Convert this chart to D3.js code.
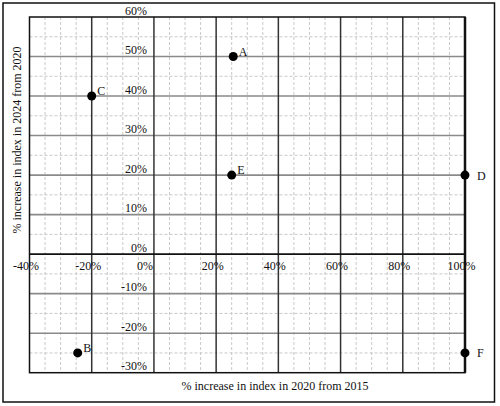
<!DOCTYPE html>
<html>
<head>
<meta charset="utf-8">
<script src="https://cdn.jsdelivr.net/npm/d3@7/dist/d3.min.js"></script>
<style>
  html, body { margin: 0; padding: 0; background: #fff; }
  svg { display: block; }
  text { font-family: "Liberation Serif", "Times New Roman", serif; fill: #111; }
</style>
</head>
<body>
<svg id="chart" width="500" height="406"></svg>
<script>
// ---- data ----
const labels  = ["A", "B", "C", "D", "E", "F"];
const xValues = [25.5, -24.5, -20, 100, 25, 100];   // % increase in index in 2020 from 2015
const yValues = [50, -25, 40, 20, 20, -25];         // % increase in index in 2024 from 2020
const labelSides = ["ne", "ne", "ne", "e", "ne", "e"];
const xTicks = [-40, -20, 0, 20, 40, 60, 80, 100];
const yTicks = [-30, -20, -10, 0, 10, 20, 30, 40, 50, 60];
const xTitle = "% increase in index in 2020 from 2015";
const yTitle = "% increase in index in 2024 from 2020";

// ---- layout ----
const svg = d3.select("#chart");
const plot = { left: 29.5, right: 465, top: 17, bottom: 372.7 };
const x = d3.scaleLinear().domain([-40, 100]).range([plot.left, plot.right]);
const y = d3.scaleLinear().domain([-30, 60]).range([plot.bottom, plot.top]);

// outer frame
svg.append("rect")
  .attr("x", 3).attr("y", 3).attr("width", 491.5).attr("height", 399)
  .attr("fill", "none").attr("stroke", "#111").attr("stroke-width", 1.5);

const grid = svg.append("g");
const xMinor = d3.range(-40, 100.1, 5).filter(v => v % 20 !== 0);
const yMinor = d3.range(-30, 60.1, 5).filter(v => v % 10 !== 0);

// minor dashed grid
grid.selectAll(".vminor").data(xMinor).join("line")
  .attr("x1", d => x(d)).attr("x2", d => x(d))
  .attr("y1", plot.top).attr("y2", plot.bottom)
  .attr("stroke", "#c8c8c8").attr("stroke-width", 1).attr("stroke-dasharray", "3,2");
grid.selectAll(".hminor").data(yMinor).join("line")
  .attr("y1", d => y(d)).attr("y2", d => y(d))
  .attr("x1", plot.left).attr("x2", plot.right)
  .attr("stroke", "#c8c8c8").attr("stroke-width", 1).attr("stroke-dasharray", "3,2");

// horizontal majors (gray)
grid.selectAll(".hmajor").data(yTicks.filter(v => v !== 0 && v !== 60 && v !== -30)).join("line")
  .attr("y1", d => y(d)).attr("y2", d => y(d))
  .attr("x1", plot.left).attr("x2", plot.right)
  .attr("stroke", "#8a8a8a").attr("stroke-width", 1.6);

// vertical majors (dark)
grid.selectAll(".vmajor").data(xTicks.filter(v => v !== -40 && v !== 100)).join("line")
  .attr("x1", d => x(d)).attr("x2", d => x(d))
  .attr("y1", plot.top).attr("y2", plot.bottom)
  .attr("stroke", "#333").attr("stroke-width", 1.5);

// zero horizontal line
grid.append("line")
  .attr("x1", plot.left).attr("x2", plot.right)
  .attr("y1", y(0)).attr("y2", y(0))
  .attr("stroke", "#111").attr("stroke-width", 1.6);

// plot border
svg.append("rect")
  .attr("x", plot.left).attr("y", plot.top)
  .attr("width", plot.right - plot.left).attr("height", plot.bottom - plot.top)
  .attr("fill", "none").attr("stroke", "#111").attr("stroke-width", 1.5);
svg.append("line")
  .attr("x1", plot.right).attr("x2", plot.right)
  .attr("y1", plot.top).attr("y2", plot.bottom)
  .attr("stroke", "#111").attr("stroke-width", 2.5);

// y axis labels along x = 0
const yAxis = svg.append("g")
  .attr("transform", `translate(${x(0)},0)`)
  .call(d3.axisLeft(y).tickValues(yTicks).tickSize(0).tickPadding(7).tickFormat(d => d + "%"));
yAxis.select(".domain").remove();
yAxis.selectAll("text")
  .attr("dy", -3)
  .style("font-family", '"Liberation Serif", serif').style("font-size", "12px").attr("fill", "#111");

// x axis labels along y = 0
const xAxis = svg.append("g")
  .attr("transform", `translate(0,${y(0)})`)
  .call(d3.axisBottom(x).tickValues(xTicks).tickSize(0).tickPadding(7).tickFormat(d => d + "%"));
xAxis.select(".domain").remove();
xAxis.selectAll("text")
  .attr("dx", d => d === 0 ? -9.5 : -4)
  .style("font-family", '"Liberation Serif", serif').style("font-size", "12px").attr("fill", "#111");

// axis titles
svg.append("text")
  .attr("x", 275).attr("y", 390)
  .attr("text-anchor", "middle").style("font-size", "12px")
  .text(xTitle);
svg.append("text")
  .attr("transform", "translate(16.5,140) rotate(-90)")
  .attr("text-anchor", "middle").attr("dominant-baseline", "central")
  .style("font-size", "12px")
  .text(yTitle);

// points
const pts = labels.map((l, i) => ({ label: l, x: xValues[i], y: yValues[i], side: labelSides[i] }));
svg.append("g").selectAll("circle").data(pts).join("circle")
  .attr("cx", d => x(d.x)).attr("cy", d => y(d.y)).attr("r", 4.5)
  .attr("fill", "#000");

const labelOffset = { ne: { dx: 5.5, dy: -1 }, e: { dx: 12, dy: 4.5 } };
svg.append("g").selectAll("text").data(pts).join("text")
  .attr("x", d => x(d.x) + labelOffset[d.side].dx)
  .attr("y", d => y(d.y) + labelOffset[d.side].dy)
  .style("font-size", "12px")
  .text(d => d.label);
</script>
</body>
</html>
